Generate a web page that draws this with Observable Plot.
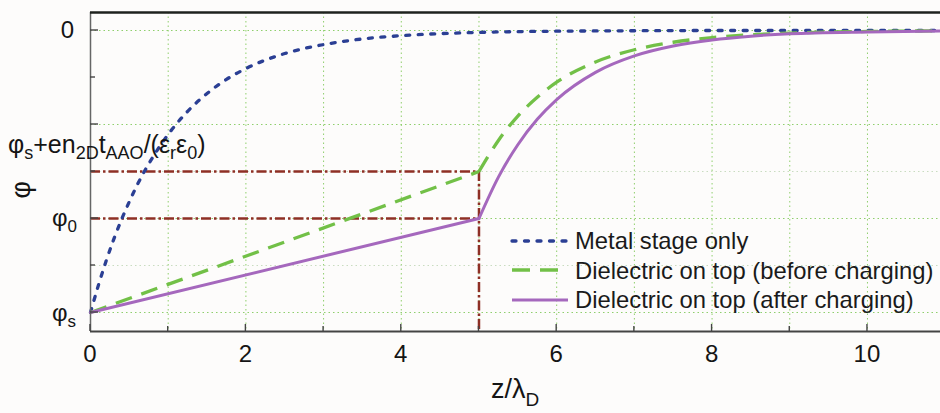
<!DOCTYPE html>
<html>
<head>
<meta charset="utf-8">
<script src="https://cdn.jsdelivr.net/npm/d3@7"></script>
<script src="https://cdn.jsdelivr.net/npm/@observablehq/plot@0.6"></script>
<style>
  body { margin: 0; background: #fdfcfb; }
  #wrap { position: relative; width: 940px; height: 413px; font-family: "Liberation Sans", Arial, sans-serif; color: #1a1a1a; }
  #legend { position: absolute; left: 511px; top: 226px; font-size: 23.8px; line-height: 29.5px; }
  #legend .row { display: flex; align-items: center; height: 29.5px; white-space: nowrap; }
  #legend svg { width: 58px; height: 10px; margin-right: 6px; overflow: visible; flex: none; }
</style>
</head>
<body>
<div id="wrap"></div>
<script>
// ---- data ----
const seriesNames = ["Metal stage only", "Dielectric on top (before charging)", "Dielectric on top (after charging)"];
const seriesColors = ["#2b3f94", "#72c047", "#a568bd"];

// Metal stage only (blue dotted)
const metalZ   = [0, 0.1, 0.2, 0.3, 0.4, 0.5, 0.6, 0.8, 1, 1.25, 1.5, 1.75, 2, 2.5, 3, 3.5, 4, 5, 6, 7, 8, 9, 10, 11];
const metalPhi = [-6, -5.43, -4.91, -4.44, -4.02, -3.64, -3.29, -2.70, -2.21, -1.72, -1.34, -1.04, -0.81, -0.49, -0.30, -0.18, -0.11, -0.04, -0.015, -0.005, 0, 0, 0, 0];

// Dielectric on top, before charging (green dashed): straight part then relaxation
const beforeLinZ   = [0, 5];
const beforeLinPhi = [-6, -3];
const beforeExpZ   = [5, 5.25, 5.5, 5.75, 6, 6.5, 7, 7.5, 8, 8.5, 9, 10, 11];
const beforeExpPhi = [-3, -2.34, -1.82, -1.42, -1.10, -0.67, -0.41, -0.25, -0.15, -0.09, -0.055, -0.02, -0.007];

// Dielectric on top, after charging (purple solid)
const afterLinZ   = [0, 5];
const afterLinPhi = [-6, -4];
const afterExpZ   = [5, 5.25, 5.5, 5.75, 6, 6.5, 7, 7.5, 8, 8.5, 9, 10, 11];
const afterExpPhi = [-4, -3.12, -2.43, -1.89, -1.47, -0.89, -0.54, -0.33, -0.20, -0.12, -0.07, -0.03, -0.01];

// reference levels
const phiS = -6, phi0 = -4, phiCharged = -3, dielectricEdge = 5;

// axes
const xDomain = [0, 10.94];
const yDomain = [-6.404, 0.383];
const xTickValues  = [0, 2, 4, 6, 8, 10];
const xMinorValues = [1, 3, 5, 7, 9];
const xGridValues  = [1, 2, 3, 4, 5, 6, 7, 8, 9, 10];
const yMajorValues = [0, -2, -4, -6];
const yMinorValues = [-1, -3, -5];
const yGridStrong  = [0, -2, -4, -6];
const yGridFaint   = [-3, -5];

// ---- build tables ----
function rows(zs, ps, series, seg) { return zs.map((z, i) => ({z, phi: ps[i], series, seg})); }
const metalData  = rows(metalZ, metalPhi, 0, "m");
const beforeData = rows(beforeLinZ, beforeLinPhi, 1, "b1").concat(rows(beforeExpZ, beforeExpPhi, 1, "b2"));
const afterData  = rows(afterLinZ, afterLinPhi, 2, "a1").concat(rows(afterExpZ, afterExpPhi, 2, "a2"));

const NS = "http://www.w3.org/2000/svg";
function txt(parent, attrs, parts) {
  const t = document.createElementNS(NS, "text");
  for (const k in attrs) t.setAttribute(k, attrs[k]);
  for (const p of parts) {
    const s = document.createElementNS(NS, "tspan");
    s.textContent = p.t;
    if (p.sub) { s.setAttribute("font-size", p.sub); s.setAttribute("dy", p.dy); }
    else if (p.dy) s.setAttribute("dy", p.dy);
    t.appendChild(s);
  }
  parent.appendChild(t);
  return t;
}

function decor(index, scales) {
  const x = scales.x, y = scales.y;
  const g = document.createElementNS(NS, "g");
  const yb = y(yDomain[0]), x0 = x(xDomain[0]);
  const line = (x1, y1, x2, y2, stroke, w) => {
    const l = document.createElementNS(NS, "line");
    l.setAttribute("x1", x1); l.setAttribute("y1", y1); l.setAttribute("x2", x2); l.setAttribute("y2", y2);
    l.setAttribute("stroke", stroke); l.setAttribute("stroke-width", w);
    g.appendChild(l);
  };
  // inward ticks
  for (const v of xTickValues) line(x(v), yb, x(v), yb - 7, "#444", 1.4);
  for (const v of xMinorValues) line(x(v), yb, x(v), yb - 5, "#444", 1.4);
  for (const v of yMajorValues) line(x0, y(v), x0 + 8, y(v), "#444", 1.4);
  for (const v of yMinorValues) line(x0, y(v), x0 + 5, y(v), "#444", 1.4);
  const font = {"font-family": "Liberation Sans, Arial, sans-serif", fill: "#151515"};
  // x tick labels
  for (const v of xTickValues) txt(g, {...font, x: x(v), y: yb + 31, "text-anchor": "middle", "font-size": 24}, [{t: String(v)}]);
  // y tick labels
  txt(g, {...font, x: x0 - 16, y: y(0) + 8, "text-anchor": "end", "font-size": 24}, [{t: "0"}]);
  txt(g, {...font, x: x0 - 38, y: y(phi0) + 8, "text-anchor": "start", "font-size": 24}, [{t: "φ"}, {t: "0", sub: 17, dy: 6}]);
  txt(g, {...font, x: x0 - 38, y: y(phiS) + 9, "text-anchor": "start", "font-size": 24}, [{t: "φ"}, {t: "s", sub: 17, dy: 6}]);
  txt(g, {...font, x: 8, y: y(phiCharged) - 18, "text-anchor": "start", "font-size": 25}, [
    {t: "φ"}, {t: "s", sub: 18, dy: 6}, {t: "+en", dy: -6}, {t: "2D", sub: 18, dy: 6},
    {t: "t", dy: -6}, {t: "AAO", sub: 18, dy: 6}, {t: "/(ε", dy: -6}, {t: "r", sub: 18, dy: 6},
    {t: "ε", dy: -6}, {t: "0", sub: 18, dy: 6}, {t: ")", dy: -6}
  ]);
  // axis titles
  const xc = (x(xDomain[0]) + x(xDomain[1])) / 2;
  txt(g, {...font, x: xc, y: yb + 67, "text-anchor": "middle", "font-size": 27}, [{t: "z/λ"}, {t: "D", sub: 19, dy: 8}]);
  txt(g, {...font, x: 0, y: 0, transform: `translate(30,${y(-3.4)}) rotate(-90)`, "text-anchor": "middle", "font-size": 27}, [{t: "φ"}]);
  return g;
}

const redStyle = {stroke: "#8e2f25", strokeWidth: 2.5, strokeDasharray: "10,3,2.5,3"};

const chart = Plot.plot({
  width: 940, height: 413,
  marginLeft: 90, marginRight: 0, marginTop: 12, marginBottom: 82,
  x: {domain: xDomain, axis: null},
  y: {domain: yDomain, axis: null},
  style: {background: "transparent", overflow: "visible"},
  marks: [
    Plot.ruleX(xGridValues, {stroke: "#8fcf6c", strokeWidth: 1, strokeDasharray: "1.5,3"}),
    Plot.ruleY(yGridStrong, {stroke: "#8fcf6c", strokeWidth: 1, strokeDasharray: "1.5,3"}),
    Plot.ruleY(yGridFaint, {stroke: "#c9dcc0", strokeWidth: 1, strokeDasharray: "1.5,3"}),
    Plot.ruleY([phiCharged, phi0], {x1: 0, x2: dielectricEdge, ...redStyle}),
    Plot.ruleX([dielectricEdge], {y1: phiCharged, y2: yDomain[0], ...redStyle}),
    Plot.line(metalData, {x: "z", y: "phi", z: "seg", curve: "monotone-x", stroke: seriesColors[0], strokeWidth: 3.3, strokeDasharray: "4,8.5", strokeLinecap: "round"}),
    Plot.line(beforeData, {x: "z", y: "phi", z: "seg", curve: "monotone-x", stroke: seriesColors[1], strokeWidth: 3.3, strokeDasharray: "17,10", strokeLinecap: "butt"}),
    Plot.line(afterData, {x: "z", y: "phi", z: "seg", curve: "monotone-x", stroke: seriesColors[2], strokeWidth: 3}),
    Plot.ruleX([xDomain[0]], {stroke: "#666", strokeWidth: 1.5}),
    Plot.ruleY([yDomain[0]], {stroke: "#444", strokeWidth: 2}),
    Plot.ruleY([yDomain[1]], {stroke: "#1e221e", strokeWidth: 2.4}),
    decor
  ]
});

const wrap = document.getElementById("wrap");
wrap.appendChild(chart);

// legend
const dashes = [{dash: "4,8.5", cap: "round", w: 3.3}, {dash: "18,10", cap: "butt", w: 3.3}, {dash: null, cap: "butt", w: 3}];
const legend = document.createElement("div");
legend.id = "legend";
seriesNames.forEach((name, i) => {
  const row = document.createElement("div");
  row.className = "row";
  const sw = dashes[i];
  row.innerHTML = `<svg viewBox="0 0 58 10"><line x1="1" y1="5" x2="57" y2="5" stroke="${seriesColors[i]}" stroke-width="${sw.w}" stroke-linecap="${sw.cap}" ${sw.dash ? `stroke-dasharray="${sw.dash}"` : ""}/></svg><span>${name}</span>`;
  legend.appendChild(row);
});
wrap.appendChild(legend);
</script>
</body>
</html>
